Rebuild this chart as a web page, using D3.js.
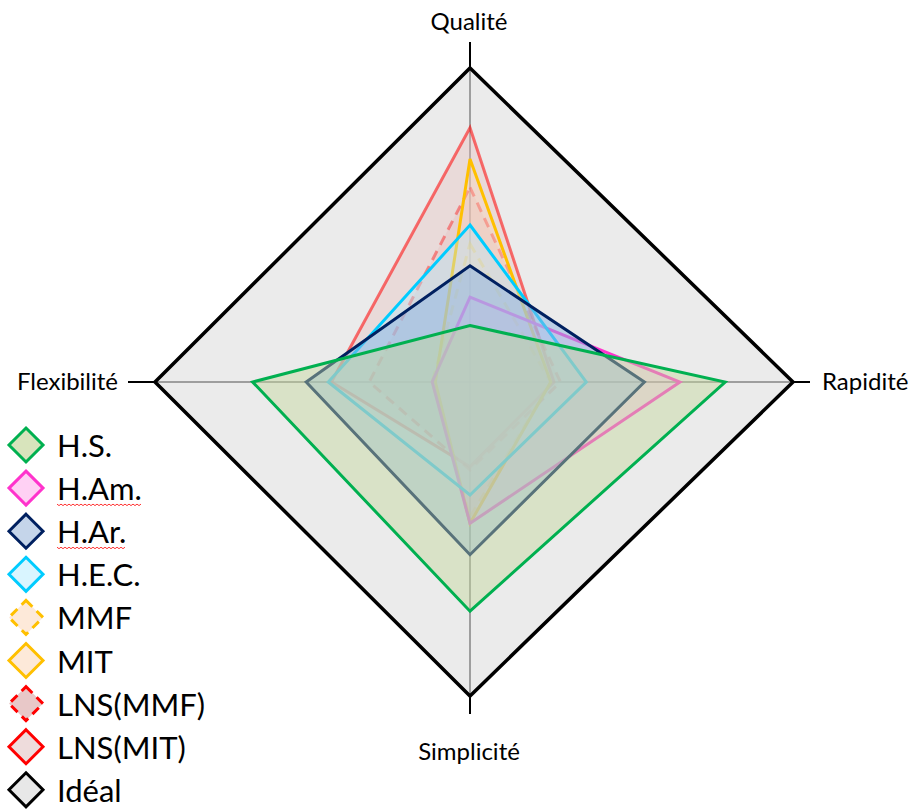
<!DOCTYPE html>
<html>
<head>
<meta charset="utf-8">
<script src="https://cdn.jsdelivr.net/npm/d3@7"></script>
<style>
  body { margin: 0; background: #fff; }
  text { font-family: Lato, "Open Sans", sans-serif; fill: #000; }
</style>
</head>
<body>
<script>
// axes, clockwise from the top
const axes = ["Qualité", "Rapidité", "Simplicité", "Flexibilité"];

// values, 0..100 (Idéal = 100)
const hsValues      = [18, 79, 73, 69];
const hamValues     = [27, 65, 45, 12];
const harValues     = [37, 54, 55, 52];
const hecValues     = [50, 36, 36, 45];
const mmfValues     = [44, 25, 43, 12];
const mitValues     = [71, 25, 45, 11];
const lnsMmfValues  = [62, 28, 28, 32];
const lnsMitValues  = [81, 26, 27, 44];
const idealValues   = [100, 100, 100, 100];

const legendNames = ["H.S.", "H.Am.", "H.Ar.", "H.E.C.", "MMF", "MIT", "LNS(MMF)", "LNS(MIT)", "Idéal"];
const underlined = ["H.Am.", "H.Ar."];   // spell-check squiggles in the original

// styles per series
const styles = {
  "H.S.":     {stroke: "#00b050", op: 1,    fill: "#c4d79b", fop: 0.45, dash: null, legendFill: "#d8e4bc"},
  "H.Am.":    {stroke: "#ff33cc", op: 1,    fill: "#ff99e6", fop: 0.25, dash: null, legendFill: "#ffd1f4"},
  "H.Ar.":    {stroke: "#002060", op: 1,    fill: "#8db4e2", fop: 0.5,  dash: null, legendFill: "#c5d5ea"},
  "H.E.C.":   {stroke: "#00ccff", op: 1,    fill: "#b7e9fb", fop: 0.4,  dash: null, legendFill: "#d9f5ff"},
  "MMF":      {stroke: "#ffc000", op: 0.4,  fill: "#fcd5b5", fop: 0.3,  dash: "10,7", legendFill: "#fde9d9"},
  "MIT":      {stroke: "#ffc000", op: 1,    fill: "#fcd5b5", fop: 0.35, dash: null, legendFill: "#fde9d9"},
  "LNS(MMF)": {stroke: "#ff0000", op: 0.4,  fill: "#e6b9b8", fop: 0.3,  dash: "10,7", legendFill: "#e8c8c8"},
  "LNS(MIT)": {stroke: "#ff0000", op: 0.55, fill: "#e6b9b8", fop: 0.35, dash: null, legendFill: "#eedcdc"},
  "Idéal":    {stroke: "#000000", op: 1,    fill: "#ebebeb", fop: 1,    dash: null, legendFill: "#e8e8e8"}
};

const seriesValues = {
  "H.S.": hsValues, "H.Am.": hamValues, "H.Ar.": harValues, "H.E.C.": hecValues,
  "MMF": mmfValues, "MIT": mitValues, "LNS(MMF)": lnsMmfValues, "LNS(MIT)": lnsMitValues,
  "Idéal": idealValues
};

// bottom to top
const drawOrder = ["LNS(MIT)", "LNS(MMF)", "MMF", "MIT", "H.Am.", "H.E.C.", "H.Ar.", "H.S."];

let width = 914, height = 809;
let cx = 470, cy = 382;
let radius = [314, 323, 314, 315];   // the original plot is slightly stretched
let ext = [26, 17, 18, 27];          // axis line beyond the outer ring

let scales = radius.map(R => d3.scaleLinear().domain([0, 100]).range([0, R]));

function pt(v, i) {
  let a = i * Math.PI / 2;
  let r = scales[i](v);
  return [cx + Math.sin(a) * r, cy - Math.cos(a) * r];
}

let line = d3.line().curve(d3.curveLinearClosed);

let svg = d3.select("body").append("svg")
  .attr("width", width)
  .attr("height", height);

// Idéal background
svg.append("path")
  .attr("d", line(idealValues.map(pt)))
  .attr("fill", styles["Idéal"].fill);

// axis lines
axes.forEach((name, i) => {
  let end = pt(100, i);
  let a = i * Math.PI / 2;
  svg.append("line")
    .attr("x1", cx).attr("y1", cy)
    .attr("x2", end[0]).attr("y2", end[1])
    .attr("stroke", "#858585")
    .attr("stroke-width", 1.5);
  svg.append("line")
    .attr("x1", end[0]).attr("y1", end[1])
    .attr("x2", end[0] + Math.sin(a) * ext[i]).attr("y2", end[1] - Math.cos(a) * ext[i])
    .attr("stroke", "#000")
    .attr("stroke-width", 2);
});

// series
drawOrder.forEach(name => {
  let s = styles[name];
  svg.append("path")
    .attr("d", line(seriesValues[name].map(pt)))
    .attr("fill", s.fill)
    .attr("fill-opacity", s.fop)
    .attr("stroke", s.stroke)
    .attr("stroke-opacity", s.op)
    .attr("stroke-width", 3)
    .attr("stroke-linejoin", "miter")
    .attr("stroke-dasharray", s.dash);
});

// Idéal outline on top
svg.append("path")
  .attr("d", line(idealValues.map(pt)))
  .attr("fill", "none")
  .attr("stroke", "#000")
  .attr("stroke-width", 3.5);

// axis labels
let labelPos = [
  {x: 469, y: 30, anchor: "middle"},
  {x: 822, y: 390, anchor: "start"},
  {x: 469, y: 760, anchor: "middle"},
  {x: 118, y: 390, anchor: "end"}
];
axes.forEach((name, i) => {
  svg.append("text")
    .attr("x", labelPos[i].x)
    .attr("y", labelPos[i].y)
    .attr("text-anchor", labelPos[i].anchor)
    .attr("font-size", 24)
    .text(name);
});

// legend
let legend = svg.append("g").attr("class", "legend");
legendNames.forEach((name, i) => {
  let s = styles[name];
  let g = legend.append("g").attr("transform", "translate(0," + (445 + i * 43.1) + ")");
  g.append("path")
    .attr("d", "M26,-17 L43,0 L26,17 L9,0 Z")
    .attr("fill", s.legendFill)
    .attr("stroke", name == "Idéal" ? "#000" : s.stroke)
    .attr("stroke-width", 3)
    .attr("stroke-dasharray", s.dash ? "9,6" : null);
  let t = g.append("text")
    .attr("x", 57)
    .attr("y", 12)
    .attr("font-size", 31)
    .text(name);
  if (underlined.includes(name)) {
    let w = t.node().getComputedTextLength();
    let pts = d3.range(0, w, 2).map((x, k) => [57 + x, 16 + (k % 2 ? 1.5 : 0)]);
    g.append("path")
      .attr("d", d3.line()(pts))
      .attr("fill", "none")
      .attr("stroke", "#ff0000")
      .attr("stroke-width", 0.8);
  }
});
</script>
</body>
</html>
